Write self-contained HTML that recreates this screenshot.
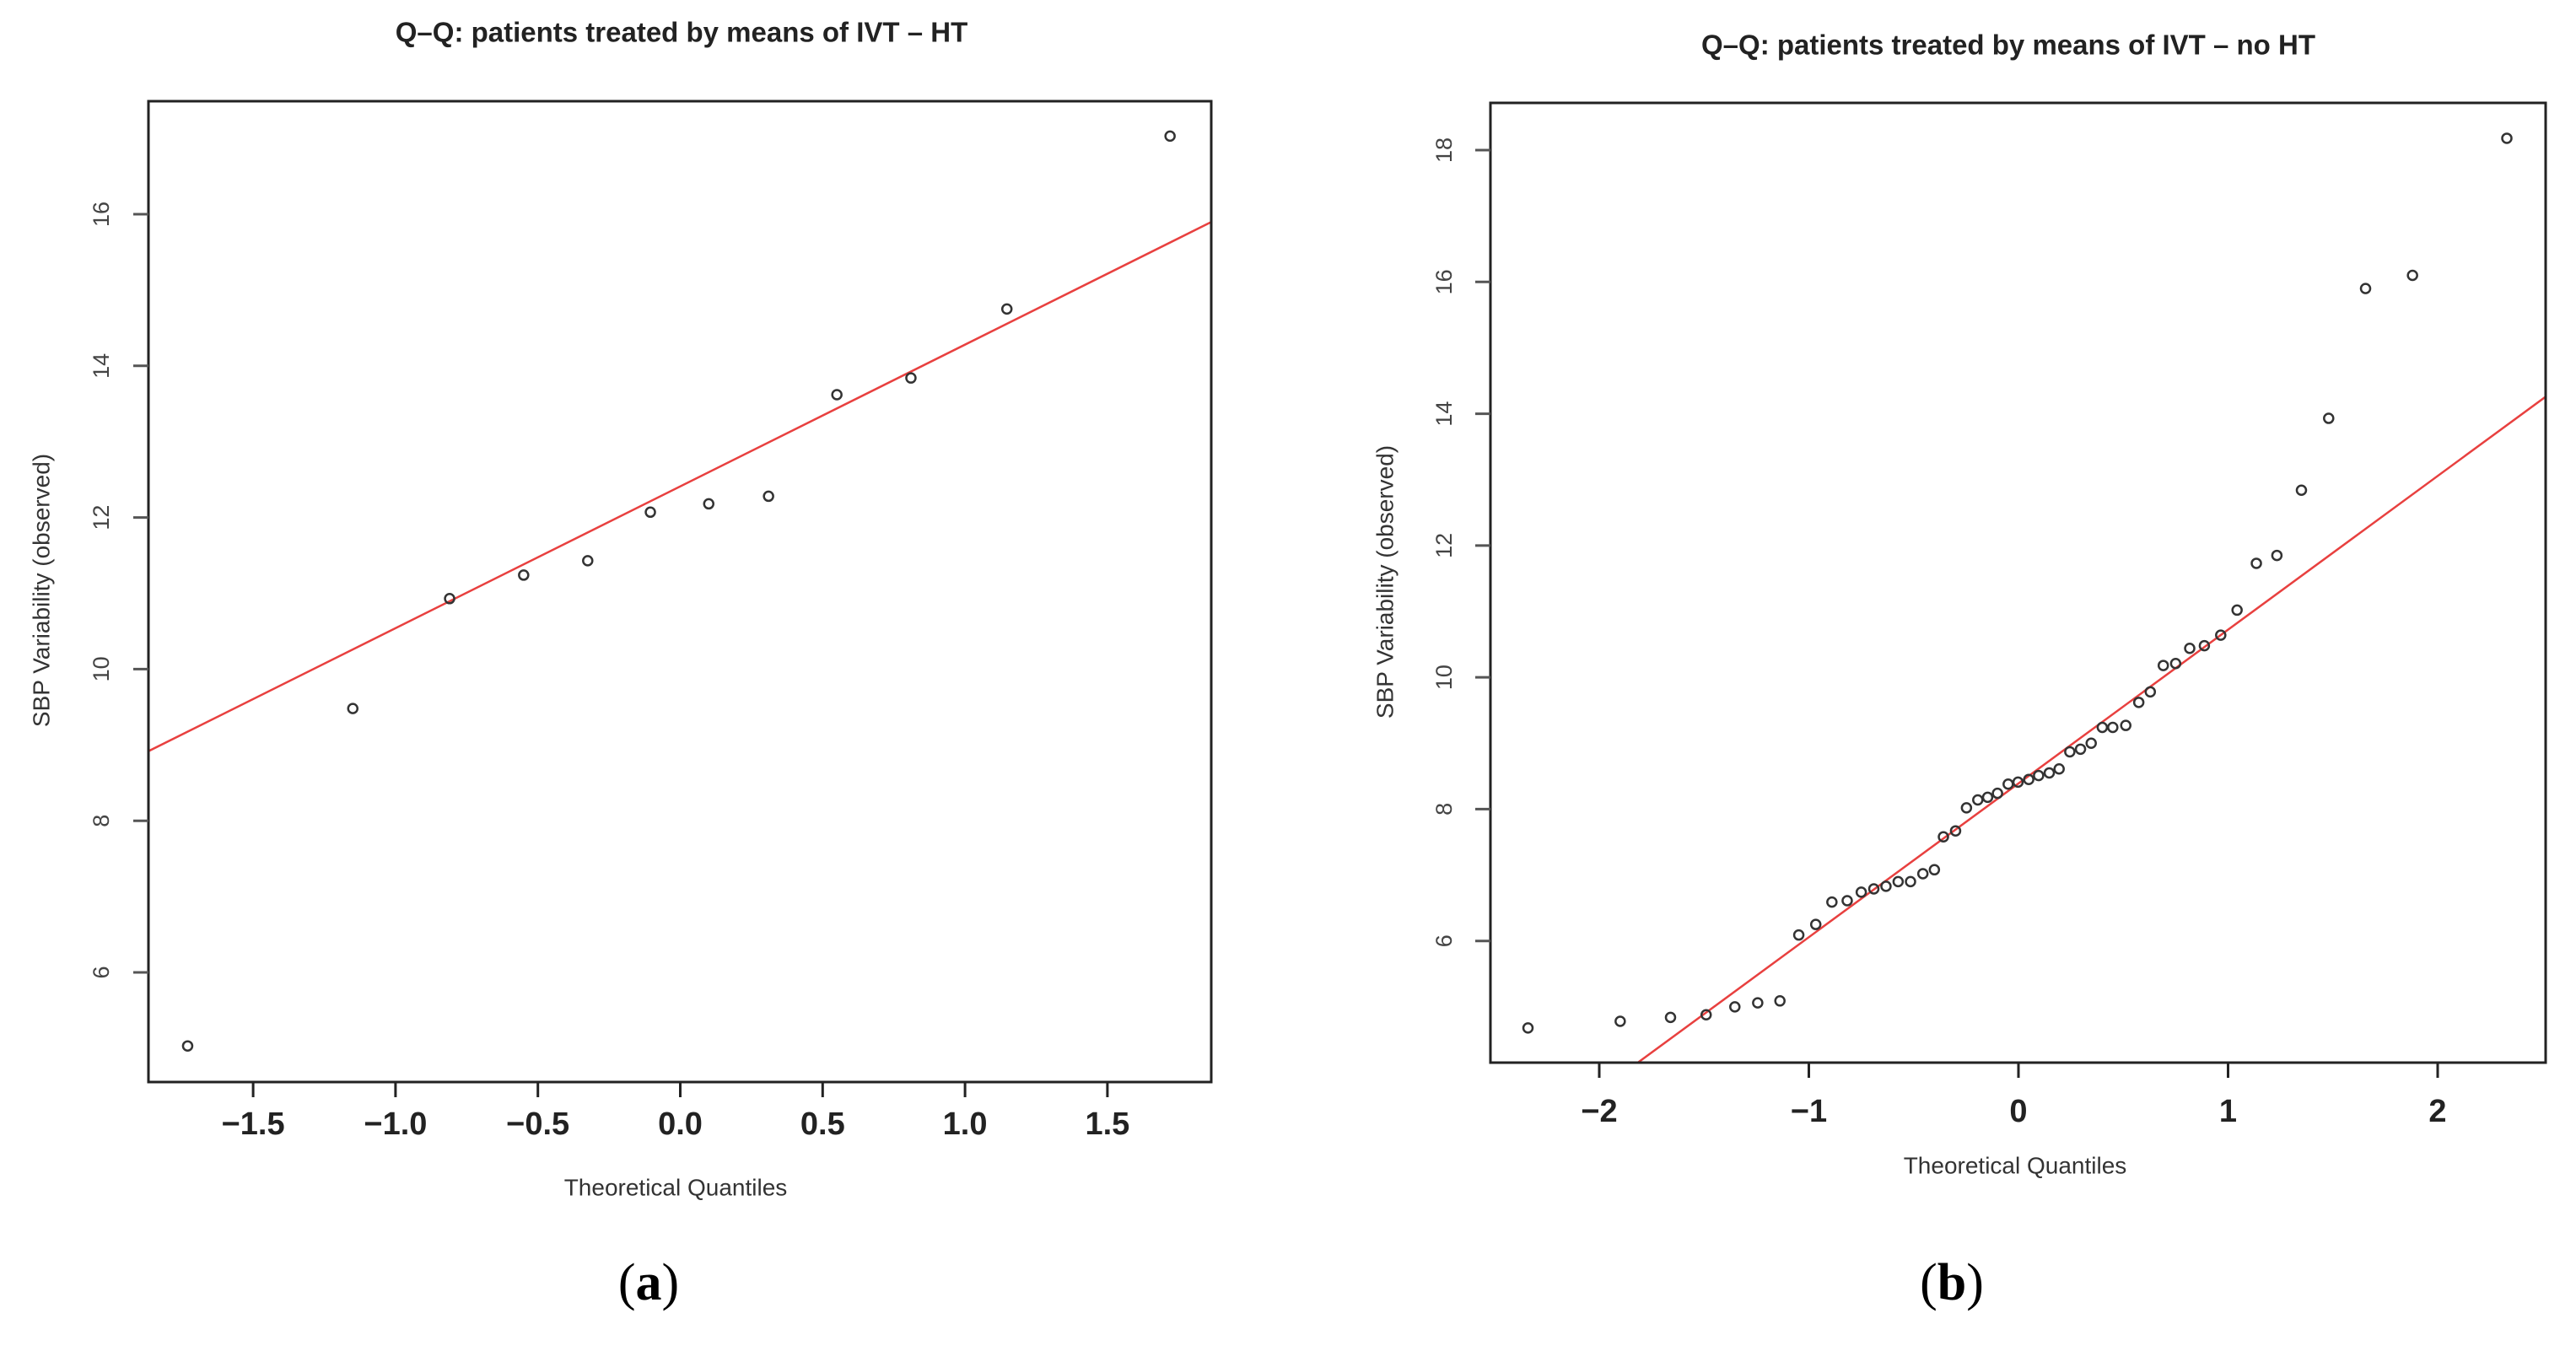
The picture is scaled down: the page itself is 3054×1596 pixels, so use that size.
<!DOCTYPE html>
<html><head><meta charset="utf-8"><style>
html,body{margin:0;padding:0;background:#fff;}
svg{display:block;}
</style></head><body>
<svg id="fig" width="3054" height="1596" viewBox="0 0 3054 1596" xmlns="http://www.w3.org/2000/svg">
<g id="pa"></g>
<g id="pb"></g>
</svg>
<script>
// Panel A data
const aTheoretical = [-1.73,-1.15,-0.81,-0.55,-0.325,-0.105,0.10,0.31,0.55,0.81,1.147,1.72];
const aObserved = [5.03,9.48,10.93,11.24,11.43,12.07,12.18,12.28,13.62,13.84,14.75,17.03];
const aXTicks = [-1.5,-1.0,-0.5,0.0,0.5,1.0,1.5];
const aXTickLabels = ["\u22121.5","\u22121.0","\u22120.5","0.0","0.5","1.0","1.5"];
const aYTicks = [6,8,10,12,14,16];
const aYTickLabels = ["6","8","10","12","14","16"];
const aLine = [12.41, 1.87]; // intercept, slope

// Panel B data
const bTheoretical = [-2.34,-1.90,-1.66,-1.49,-1.353,-1.244,-1.138,-1.048,-0.967,-0.89,-0.817,-0.75,-0.69,-0.632,-0.574,-0.515,-0.456,-0.401,-0.358,-0.30,-0.248,-0.194,-0.147,-0.10,-0.049,-0.002,0.049,0.096,0.147,0.194,0.245,0.296,0.347,0.40,0.45,0.512,0.574,0.629,0.691,0.75,0.817,0.887,0.965,1.043,1.135,1.233,1.35,1.48,1.656,1.88,2.33];
const bObserved = [4.68,4.78,4.84,4.88,5.00,5.06,5.09,6.09,6.25,6.59,6.61,6.74,6.79,6.83,6.90,6.90,7.02,7.08,7.58,7.67,8.02,8.14,8.18,8.24,8.38,8.41,8.45,8.51,8.55,8.61,8.87,8.91,9.00,9.24,9.24,9.27,9.62,9.78,10.18,10.21,10.44,10.48,10.64,11.02,11.73,11.85,12.84,13.93,15.90,16.10,18.18];
const bXTicks = [-2,-1,0,1,2];
const bXTickLabels = ["\u22122","\u22121","0","1","2"];
const bYTicks = [6,8,10,12,14,16,18];
const bYTickLabels = ["6","8","10","12","14","16","18"];
const bLine = [8.39, 2.333];

const NS = "http://www.w3.org/2000/svg";
function mk(parent, tag, attrs, text){
  const e = document.createElementNS(NS, tag);
  for (const k in attrs) e.setAttribute(k, attrs[k]);
  if (text !== undefined) e.textContent = text;
  parent.appendChild(e);
  return e;
}

function drawPanel(g, cfg){
  const {box, x0, xs, y0v, y0, ys, xt, xtl, yt, ytl, xv, yv, line, title, titlePos, xTitlePos, yTitlePos, yLabX, xLabY, tag, tagPos} = cfg;
  const X = v => x0 + v*xs;
  const Y = v => y0 - (v - y0v)*ys;
  const t = mk(g,'text',{x:titlePos[0],y:titlePos[1],'text-anchor':'middle','dominant-baseline':'middle','font-family':'Liberation Sans, sans-serif','font-size':33,'font-weight':'bold',fill:'#222'},title);
  
  
  // red qq line clipped
  const cid = 'clip'+tag;
  const cp = mk(g,'clipPath',{id:cid});
  mk(cp,'rect',{x:box[0],y:box[1],width:box[2]-box[0],height:box[3]-box[1]});
  const xa = (box[0]-x0)/xs, xb = (box[2]-x0)/xs;
  const ln = mk(g,'line',{x1:X(xa),y1:Y(line[0]+line[1]*xa),x2:X(xb),y2:Y(line[0]+line[1]*xb),stroke:'#e8403f','stroke-width':2.5,'clip-path':'url(#'+cid+')'});
  
  
  // points
  for (let i=0;i<xv.length;i++){
    const c = mk(g,'circle',{cx:X(xv[i]),cy:Y(yv[i]),r:5.5,fill:'none',stroke:'#333','stroke-width':2.5});
    
    
  }
  // box
  const r = mk(g,'rect',{x:box[0],y:box[1],width:box[2]-box[0],height:box[3]-box[1],fill:'none',stroke:'#222','stroke-width':3});
  
  
  // x ticks
  for (let i=0;i<xt.length;i++){
    const tk = mk(g,'line',{x1:X(xt[i]),y1:box[3],x2:X(xt[i]),y2:box[3]+18,stroke:'#222','stroke-width':3});
    
    
    const tl = mk(g,'text',{x:X(xt[i]),y:xLabY,'text-anchor':'middle','dominant-baseline':'middle','font-family':'Liberation Sans, sans-serif','font-size':38,'font-weight':'bold',fill:'#222'},xtl[i]);
    
    
  }
  // y ticks
  for (let i=0;i<yt.length;i++){
    const tk = mk(g,'line',{x1:box[0]-18,y1:Y(yt[i]),x2:box[0],y2:Y(yt[i]),stroke:'#555','stroke-width':3});
    
    
    const tl = mk(g,'text',{x:yLabX,y:Y(yt[i]),'text-anchor':'middle','dominant-baseline':'middle','font-family':'Liberation Sans, sans-serif','font-size':27,fill:'#444',transform:'rotate(-90 '+yLabX+' '+Y(yt[i])+')'},ytl[i]);
    
    
  }
  const xtt = mk(g,'text',{x:xTitlePos[0],y:xTitlePos[1],'text-anchor':'middle','dominant-baseline':'middle','font-family':'Liberation Sans, sans-serif','font-size':28,fill:'#333'},'Theoretical Quantiles');
  
  
  const ytt = mk(g,'text',{x:yTitlePos[0],y:yTitlePos[1],'text-anchor':'middle','dominant-baseline':'middle','font-family':'Liberation Sans, sans-serif','font-size':28,fill:'#333',transform:'rotate(-90 '+yTitlePos[0]+' '+yTitlePos[1]+')'},'SBP Variability (observed)');
  
  
  const tg = mk(g,'text',{x:tagPos[0],y:tagPos[1],'text-anchor':'middle','dominant-baseline':'middle','font-family':'Liberation Serif, serif','font-size':62,fill:'#000'},'');
  
  
  mk(tg,'tspan',{},'(');
  mk(tg,'tspan',{'font-weight':'bold'},tag);
  mk(tg,'tspan',{},')');
}

drawPanel(document.getElementById('pa'), {
  box:[176,120,1436,1283], x0:806.5, xs:337.6, y0v:6, y0:1153, ys:89.9,
  xt:aXTicks, xtl:aXTickLabels, yt:aYTicks, ytl:aYTickLabels,
  xv:aTheoretical, yv:aObserved, line:aLine,
  title:'Q\u2013Q: patients treated by means of IVT \u2013 HT', titlePos:[808,41],
  xTitlePos:[801,1410], yTitlePos:[51,700], yLabX:122, xLabY:1335, tag:'a', tagPos:[769,1527]
});
drawPanel(document.getElementById('pb'), {
  box:[1767,122,3018,1260], x0:2393, xs:248.5, y0v:6, y0:1115.7, ys:78.14,
  xt:bXTicks, xtl:bXTickLabels, yt:bYTicks, ytl:bYTickLabels,
  xv:bTheoretical, yv:bObserved, line:bLine,
  title:'Q\u2013Q: patients treated by means of IVT \u2013 no HT', titlePos:[2381,56],
  xTitlePos:[2389,1384], yTitlePos:[1644,690], yLabX:1714, xLabY:1320, tag:'b', tagPos:[2314,1527]
});
</script>
</body></html>
